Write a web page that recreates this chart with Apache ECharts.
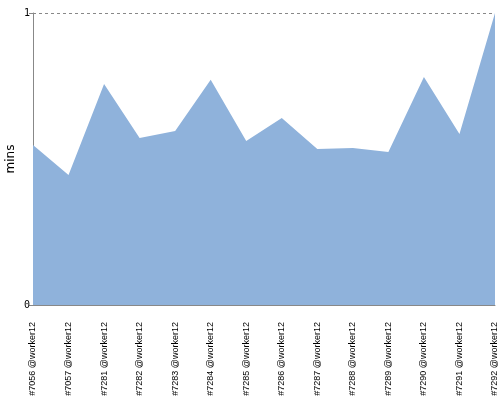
<!DOCTYPE html>
<html><head><meta charset="utf-8">
<script src="https://cdn.jsdelivr.net/npm/echarts@6/dist/echarts.min.js"></script>
<style>html,body{margin:0;padding:0;background:#fff}#c{width:500px;height:400px}</style>
</head><body><div id="c"></div>
<script>
const categories = ['#7056 @worker12','#7057 @worker12','#7281 @worker12','#7282 @worker12','#7283 @worker12','#7284 @worker12','#7285 @worker12','#7286 @worker12','#7287 @worker12','#7288 @worker12','#7289 @worker12','#7290 @worker12','#7291 @worker12','#7292 @worker12'];
const minsValues = [0.548,0.445,0.757,0.572,0.596,0.771,0.562,0.640,0.534,0.538,0.524,0.781,0.586,1.0];
const yTicks = [0,1];
const chart = echarts.init(document.getElementById('c'));
chart.setOption({
  animation:false,
  grid:{left:33,right:5,top:13,bottom:95,containLabel:false,outerBoundsMode:'none'},
  xAxis:{type:'category',data:categories,boundaryGap:false,
    axisLine:{lineStyle:{color:'#888'}},axisTick:{show:false},
    axisLabel:{rotate:90,interval:0,color:'#000',fontSize:9,fontFamily:'Liberation Sans',margin:17}},
  yAxis:{type:'value',min:yTicks[0],max:yTicks[1],interval:1,name:'mins',nameLocation:'middle',nameGap:16,nameMoveOverlap:false,
    nameTextStyle:{color:'#000',fontSize:12,fontFamily:'DejaVu Sans'},
    axisLine:{show:true,lineStyle:{color:'#888'}},axisTick:{show:true,length:4,lineStyle:{color:'#888'}},
    axisLabel:{color:'#000',fontSize:10,fontFamily:'DejaVu Sans Mono',margin:3},
    splitLine:{show:true,lineStyle:{type:[3,3],color:'#888'}}},
  series:[{type:'line',data:minsValues,symbol:'none',lineStyle:{width:0},areaStyle:{color:'#8fb2db',opacity:1}}]
});
</script></body></html>
